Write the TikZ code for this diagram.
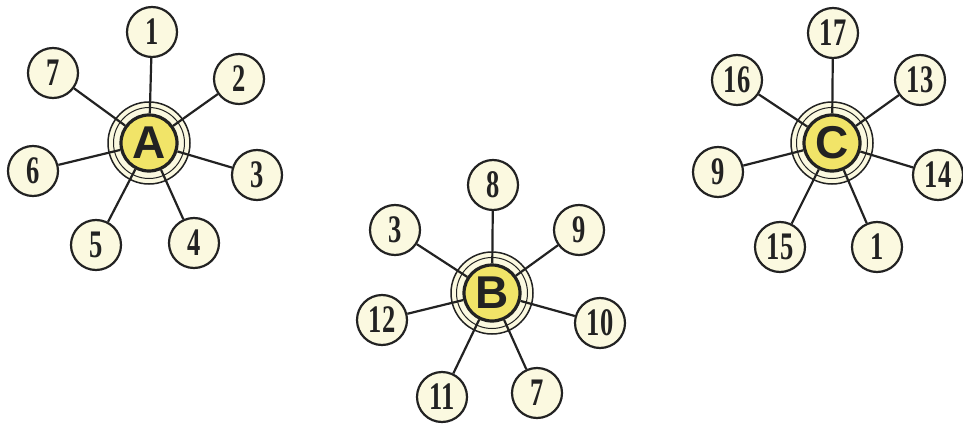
\documentclass[tikz,border=0pt]{standalone}
\usepackage{fontspec}
\newfontfamily\numfont{Liberation Serif}[FakeStretch=0.68]
\newfontfamily\letfont{Liberation Sans}
\definecolor{ink}{RGB}{34,34,34}
\definecolor{cream}{RGB}{251,249,224}
\definecolor{hubyellow}{RGB}{241,228,104}
\tikzset{
  small/.style={circle, draw=ink, line width=2.2pt, fill=cream, minimum size=50pt, inner sep=0pt,
    font=\numfont\bfseries\fontsize{39}{39}\selectfont, text=ink},
  hub/.style={circle, draw=ink, line width=3.2pt, fill=hubyellow, minimum size=56pt, inner sep=0pt,
    font=\letfont\bfseries\fontsize{46}{46}\selectfont, text=ink},
  ringout/.style={draw=ink, line width=1.5pt, fill=cream},
  ringmid/.style={draw=ink, line width=1pt},
  spoke/.style={draw=ink, line width=2.2pt}
}
\begin{document}
\begin{tikzpicture}[x=1pt,y=-1pt]
\useasboundingbox (0,0) rectangle (963,425);
% hub centres
\coordinate (cA) at (149,143);
\coordinate (cB) at (492,293);
\coordinate (cC) at (832,143);
\foreach \c in {cA,cB,cC}{
  \draw[ringout] (\c) circle (41pt);
  \draw[ringmid] (\c) circle (35.5pt);
}
\node[hub] (A) at (cA) {A};
\node[hub] (B) at (cB) {B};
\node[hub] (C) at (cC) {C};
% star A
\node[small] (a1) at (152,32) {1};
\node[small] (a2) at (239,79) {2};
\node[small] (a3) at (257,175) {3};
\node[small] (a4) at (194,243) {4};
\node[small] (a5) at (96,245) {5};
\node[small] (a6) at (33,171) {6};
\node[small] (a7) at (53,73) {7};
% star B
\node[small] (b8) at (493,185) {8};
\node[small] (b9) at (579,230) {9};
\node[small] (b10) at (600,323) {10};
\node[small] (b7) at (537,393) {7};
\node[small] (b11) at (442,397) {11};
\node[small] (b12) at (382,320) {12};
\node[small] (b3) at (395,230) {3};
% star C
\node[small] (c17) at (833,33) {17};
\node[small] (c13) at (920,80) {13};
\node[small] (c14) at (938,175) {14};
\node[small] (c1) at (877,247) {1};
\node[small] (c15) at (780,247) {15};
\node[small] (c9) at (718,172) {9};
\node[small] (c16) at (737,80) {16};
% spokes
\foreach \n in {a1,a2,a3,a4,a5,a6,a7}{\draw[spoke] (\n) -- (A);}
\foreach \n in {b8,b9,b10,b7,b11,b12,b3}{\draw[spoke] (\n) -- (B);}
\foreach \n in {c17,c13,c14,c1,c15,c9,c16}{\draw[spoke] (\n) -- (C);}
\end{tikzpicture}
\end{document}
